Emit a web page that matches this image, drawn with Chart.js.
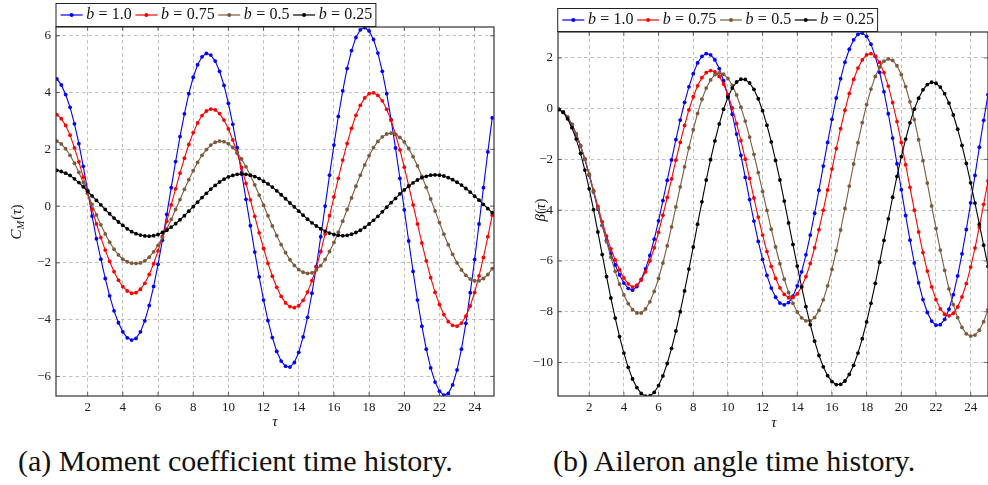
<!DOCTYPE html>
<html>
<head>
<meta charset="utf-8">
<script src="https://cdn.jsdelivr.net/npm/chart.js@4.4.0/dist/chart.umd.min.js"></script>
<style>
  html, body { margin: 0; padding: 0; background: #fff; width: 988px; height: 485px; overflow: hidden; position: relative; }
  .panel { position: absolute; top: 0; height: 430px; }
  #leftPanel { left: 0; width: 500px; }
  #rightPanel { left: 500px; width: 492px; }
  .caption { position: absolute; top: 446px; font-family: 'Liberation Serif', 'DejaVu Serif', serif; font-size: 30px; line-height: 1; color: #111; white-space: nowrap; }
</style>
</head>
<body>
<div class="panel" id="leftPanel"><canvas id="cmChart"></canvas></div>
<div class="panel" id="rightPanel"><canvas id="betaChart"></canvas></div>
<div class="caption" style="left:18px">(a) Moment coefficient time history.</div>
<div class="caption" style="left:553px">(b) Aileron angle time history.</div>
<script>
// time samples (tau) shared by both panels
const tau = [0.25,0.5,0.75,1,1.25,1.5,1.75,2,2.25,2.5,2.75,3,3.25,3.5,3.75,4,4.25,4.5,4.75,5,
  5.25,5.5,5.75,6,6.25,6.5,6.75,7,7.25,7.5,7.75,8,8.25,8.5,8.75,9,9.25,9.5,9.75,10,
  10.25,10.5,10.75,11,11.25,11.5,11.75,12,12.25,12.5,12.75,13,13.25,13.5,13.75,14,14.25,14.5,14.75,15,
  15.25,15.5,15.75,16,16.25,16.5,16.75,17,17.25,17.5,17.75,18,18.25,18.5,18.75,19,19.25,19.5,19.75,20,
  20.25,20.5,20.75,21,21.25,21.5,21.75,22,22.25,22.5,22.75,23,23.25,23.5,23.75,24,24.25,24.5,24.75,25];

const bLabels = ['1.0', '0.75', '0.5', '0.25'];
const colors = ['#0000ff', '#ff0000', '#7d5a3c', '#000000'];

// moment coefficient C_M(tau)
const cmB10 = [4.48,4.27,3.93,3.48,2.90,2.20,1.40,0.55,-0.35,-1.15,-1.87,-2.55,-3.16,-3.69,-4.11,-4.43,-4.64,-4.72,
  -4.66,-4.43,-4.04,-3.50,-2.83,-2.05,-1.20,-0.29,0.65,1.57,2.45,3.25,3.96,4.54,4.98,5.26,5.38,
  5.32,5.11,4.75,4.25,3.62,2.88,2.06,1.17,0.24,-0.69,-1.62,-2.49,-3.31,-4.03,-4.63,-5.12,-5.46,-5.64,
  -5.67,-5.51,-5.15,-4.61,-3.92,-3.07,-2.12,-1.08,0.00,1.09,2.15,3.16,4.06,4.85,5.48,5.94,6.21,
  6.29,6.17,5.87,5.39,4.75,3.96,3.05,2.05,0.98,-0.13,-1.23,-2.30,-3.31,-4.23,-5.04,-5.70,-6.20,-6.52,-6.66,
  -6.60,-6.30,-5.77,-5.04,-4.13,-3.05,-1.88,-0.63,0.65,1.91,3.11];
const cmB075 = [3.22,3.08,2.84,2.50,2.05,1.56,1.02,0.45,-0.11,-0.63,-1.11,-1.55,-1.95,-2.31,-2.61,-2.84,-2.99,-3.07,
  -3.05,-2.93,-2.72,-2.41,-2.03,-1.58,-1.07,-0.53,0.04,0.61,1.16,1.69,2.17,2.59,2.93,3.19,3.35,3.42,
  3.39,3.26,3.03,2.72,2.33,1.87,1.36,0.80,0.22,-0.36,-0.94,-1.49,-2.01,-2.47,-2.86,-3.18,-3.41,-3.54,
  -3.58,-3.51,-3.32,-3.03,-2.63,-2.15,-1.60,-0.98,-0.34,0.32,0.98,1.62,2.21,2.74,3.20,3.55,3.81,3.96,
  3.99,3.90,3.71,3.41,3.02,2.53,1.98,1.37,0.72,0.04,-0.63,-1.30,-1.93,-2.52,-3.04,-3.47,-3.82,-4.07,-4.20,
  -4.23,-4.12,-3.88,-3.52,-3.04,-2.46,-1.81,-1.08,-0.32];
const cmB05 = [2.29,2.19,2.02,1.79,1.51,1.19,0.83,0.45,0.06,-0.31,-0.66,-0.98,-1.27,-1.52,-1.72,-1.87,-1.96,-2.01,-2.02,
  -2.00,-1.93,-1.80,-1.61,-1.38,-1.11,-0.80,-0.47,-0.12,0.23,0.59,0.93,1.25,1.54,1.79,1.99,2.15,2.25,2.29,
  2.27,2.20,2.07,1.88,1.66,1.39,1.08,0.75,0.39,0.03,-0.34,-0.70,-1.04,-1.36,-1.64,-1.89,-2.09,-2.24,-2.33,-2.37,
  -2.35,-2.25,-2.10,-1.88,-1.60,-1.28,-0.92,-0.53,-0.12,0.29,0.70,1.09,1.45,1.78,2.06,2.28,2.44,2.54,
  2.57,2.53,2.42,2.26,2.03,1.74,1.42,1.05,0.66,0.25,-0.17,-0.58,-0.99,-1.36,-1.70,-2.00,-2.25,-2.44,-2.57,-2.63,
  -2.63,-2.55,-2.41,-2.20];
const cmB025 = [1.26,1.22,1.16,1.08,0.96,0.83,0.68,0.52,0.36,0.20,0.04,-0.12,-0.27,-0.42,-0.56,-0.68,-0.80,-0.90,-0.97,-1.02,-1.05,
  -1.06,-1.04,-1.00,-0.93,-0.85,-0.74,-0.62,-0.48,-0.34,-0.18,-0.02,0.14,0.30,0.45,0.60,0.73,0.85,0.95,1.03,1.08,1.12,
  1.13,1.12,1.09,1.04,0.97,0.88,0.78,0.67,0.54,0.40,0.26,0.11,-0.03,-0.18,-0.32,-0.46,-0.59,-0.70,-0.80,-0.88,-0.95,-1.00,-1.03,
  -1.04,-1.03,-0.99,-0.93,-0.85,-0.75,-0.63,-0.50,-0.36,-0.20,-0.04,0.12,0.27,0.43,0.57,0.70,0.82,0.92,1.00,1.05,1.09,
  1.10,1.09,1.06,1.00,0.93,0.84,0.74,0.62,0.49,0.35,0.21,0.06,-0.09,-0.23];

// aileron angle beta(tau)
const betaB10 = [-0.03,-0.13,-0.33,-0.62,-1.00,-1.47,-2.00,-2.62,-3.28,-3.96,-4.60,-5.18,-5.70,-6.16,-6.55,-6.87,-7.08,-7.15,
  -7.01,-6.73,-6.31,-5.78,-5.14,-4.42,-3.62,-2.82,-2.02,-1.22,-0.45,0.25,0.86,1.38,1.80,2.06,2.17,
  2.12,1.92,1.58,1.10,0.49,-0.22,-1.00,-1.84,-2.71,-3.58,-4.43,-5.23,-5.94,-6.57,-7.07,-7.43,-7.66,
  -7.73,-7.64,-7.39,-6.98,-6.43,-5.76,-4.98,-4.12,-3.21,-2.26,-1.33,-0.42,0.42,1.18,1.83,2.34,2.71,2.93,
  2.98,2.85,2.54,2.06,1.43,0.67,-0.20,-1.16,-2.17,-3.19,-4.21,-5.18,-6.08,-6.86,-7.52,-8.03,-8.37,-8.53,
  -8.51,-8.30,-7.90,-7.33,-6.59,-5.72,-4.76,-3.71,-2.63,-1.52,-0.46,0.55];
const betaB075 = [-0.03,-0.13,-0.33,-0.62,-1.00,-1.46,-1.98,-2.58,-3.22,-3.85,-4.46,-5.02,-5.52,-5.96,-6.35,-6.67,-6.90,-7.03,
  -6.95,-6.75,-6.43,-6.00,-5.48,-4.87,-4.20,-3.50,-2.77,-2.03,-1.33,-0.66,-0.05,0.47,0.90,1.22,1.42,1.50,
  1.45,1.27,0.97,0.55,0.03,-0.59,-1.26,-1.99,-2.75,-3.52,-4.27,-4.98,-5.63,-6.21,-6.69,-7.06,-7.32,-7.45,
  -7.44,-7.30,-7.02,-6.62,-6.10,-5.48,-4.77,-4.00,-3.20,-2.38,-1.57,-0.79,-0.06,0.60,1.15,1.60,1.92,2.12,
  2.17,2.07,1.82,1.42,0.89,0.24,-0.51,-1.33,-2.21,-3.10,-4.00,-4.86,-5.67,-6.40,-7.02,-7.52,-7.89,-8.10,
  -8.16,-8.06,-7.81,-7.42,-6.89,-6.24,-5.49,-4.66,-3.77,-2.85];
const betaB05 = [-0.03,-0.13,-0.33,-0.62,-1.00,-1.46,-1.99,-2.59,-3.25,-3.93,-4.60,-5.24,-5.85,-6.41,-6.91,-7.34,-7.68,-7.92,-8.05,
  -8.05,-7.89,-7.61,-7.20,-6.69,-6.08,-5.40,-4.66,-3.87,-3.08,-2.29,-1.54,-0.83,-0.19,0.37,0.81,1.13,1.34,1.41,
  1.36,1.19,0.92,0.54,0.06,-0.49,-1.12,-1.80,-2.52,-3.26,-4.01,-4.75,-5.45,-6.11,-6.72,-7.24,-7.67,-8.01,-8.24,-8.36,
  -8.36,-8.23,-7.95,-7.53,-6.98,-6.33,-5.59,-4.78,-3.93,-3.05,-2.18,-1.34,-0.55,0.16,0.77,1.27,1.64,1.87,1.96,
  1.90,1.69,1.34,0.87,0.27,-0.43,-1.22,-2.05,-2.93,-3.83,-4.72,-5.57,-6.37,-7.10,-7.72,-8.23,-8.62,-8.87,-8.96,
  -8.92,-8.73,-8.39,-7.92];
const betaB025 = [-0.03,-0.15,-0.40,-0.75,-1.20,-1.76,-2.42,-3.16,-3.98,-4.86,-5.75,-6.62,-7.46,-8.25,-8.98,-9.63,-10.19,-10.65,-10.99,-11.22,-11.33,
  -11.32,-11.18,-10.91,-10.53,-10.04,-9.44,-8.76,-8.00,-7.18,-6.32,-5.45,-4.55,-3.67,-2.81,-2.01,-1.27,-0.60,-0.02,0.45,0.81,1.05,1.16,
  1.15,1.01,0.76,0.39,-0.08,-0.65,-1.31,-2.04,-2.81,-3.64,-4.50,-5.35,-6.20,-7.02,-7.80,-8.51,-9.16,-9.72,-10.17,-10.52,-10.75,-10.87,
  -10.86,-10.73,-10.47,-10.11,-9.63,-9.06,-8.40,-7.67,-6.88,-6.05,-5.19,-4.34,-3.49,-2.67,-1.89,-1.20,-0.56,-0.02,0.41,0.74,0.95,1.04,
  1.00,0.85,0.59,0.22,-0.25,-0.81,-1.45,-2.16,-2.92,-3.72,-4.55,-5.38,-6.21];

// tick labels
const tauTicks = [2,4,6,8,10,12,14,16,18,20,22,24];
const cmTicks = [-6,-4,-2,0,2,4,6];
const betaTicks = [-10,-8,-6,-4,-2,0,2];

const serif = "'Liberation Serif', 'DejaVu Serif', serif";

let fmt = (v) => v < 0 ? '\u2212' + Math.abs(v) : String(v);

let makeDatasets = (series) => series.map((vals, i) => ({
  label: 'b = ' + bLabels[i],
  data: tau.map((t, k) => ({ x: t, y: vals[k] })),
  borderColor: colors[i],
  backgroundColor: colors[i],
  pointBackgroundColor: colors[i],
  pointBorderWidth: 0,
  pointRadius: 1.9,
  borderWidth: 1.1,
  tension: 0,
  order: 4 - i
}));

// draws a row of text pieces ([text, 'i'|'r'|'s']) centred on x
let drawPieces = (ctx, pieces, cx, cy, size) => {
  let fontOf = (p) => p[1] === 's' ? 'italic ' + (size * 0.7) + 'px ' + serif
                     : (p[1] === 'i' ? 'italic ' : '') + size + 'px ' + serif;
  let w = 0;
  pieces.forEach(p => { ctx.font = fontOf(p); w += ctx.measureText(p[0]).width + (p[2] || 0); });
  let x = cx - w / 2;
  ctx.textBaseline = 'middle';
  ctx.textAlign = 'left';
  pieces.forEach(p => {
    ctx.font = fontOf(p);
    ctx.fillText(p[0], x, p[1] === 's' ? cy + size * 0.25 : cy);
    x += ctx.measureText(p[0]).width + (p[2] || 0);
  });
};

let drawLegend = (chart, x0, y0) => {
  let ctx = chart.ctx;
  let size = 16, h = 23, sample = 22, gap = 3.6, eqGap = 4.3;
  let widthOf = (val) => {
    ctx.font = 'italic ' + size + 'px ' + serif;
    let w = ctx.measureText('b').width + eqGap;
    ctx.font = size + 'px ' + serif;
    return w + ctx.measureText('=').width + eqGap + ctx.measureText(val).width;
  };
  let total = 4.6;
  bLabels.forEach(v => { total += sample + gap + widthOf(v) + gap; });
  ctx.save();
  ctx.fillStyle = '#fff';
  ctx.fillRect(x0, y0, total, h);
  ctx.strokeStyle = '#222';
  ctx.lineWidth = 1;
  ctx.strokeRect(x0, y0, total, h);
  let x = x0 + 4.6, cy = y0 + h / 2;
  bLabels.forEach((v, i) => {
    ctx.strokeStyle = colors[i];
    ctx.fillStyle = colors[i];
    ctx.lineWidth = 1.2;
    ctx.beginPath();
    ctx.moveTo(x, cy);
    ctx.lineTo(x + sample, cy);
    ctx.stroke();
    ctx.beginPath();
    ctx.arc(x + sample / 2, cy, 2, 0, Math.PI * 2);
    ctx.fill();
    x += sample + gap;
    ctx.fillStyle = '#111';
    ctx.textBaseline = 'middle';
    ctx.textAlign = 'left';
    ctx.font = 'italic ' + size + 'px ' + serif;
    ctx.fillText('b', x, cy);
    x += ctx.measureText('b').width + eqGap;
    ctx.font = size + 'px ' + serif;
    ctx.fillText('=', x, cy);
    x += ctx.measureText('=').width + eqGap;
    ctx.fillText(v, x, cy);
    x += ctx.measureText(v).width + gap;
  });
  ctx.restore();
};

const decor = {
  id: 'decor',
  afterDatasetsDraw(chart, args, opts) {
    let { ctx, chartArea: a, scales } = chart;
    ctx.save();
    ctx.strokeStyle = '#444';
    ctx.lineWidth = 0.8;
    ctx.beginPath();
    scales.x.ticks.forEach(t => {
      let px = scales.x.getPixelForValue(t.value);
      ctx.moveTo(px, a.bottom); ctx.lineTo(px, a.bottom - 4);
      ctx.moveTo(px, a.top); ctx.lineTo(px, a.top + 4);
    });
    scales.y.ticks.forEach(t => {
      let py = scales.y.getPixelForValue(t.value);
      ctx.moveTo(a.left, py); ctx.lineTo(a.left + 4, py);
      ctx.moveTo(a.right, py); ctx.lineTo(a.right - 4, py);
    });
    ctx.stroke();
    ctx.strokeStyle = '#333';
    ctx.lineWidth = 1.2;
    ctx.strokeRect(a.left, a.top, a.right - a.left, a.bottom - a.top);
    ctx.restore();
  },
  afterDraw(chart, args, opts) {
    let ctx = chart.ctx;
    drawLegend(chart, opts.legendX, opts.legendY);
    ctx.save();
    ctx.fillStyle = '#111';
    drawPieces(ctx, [['\u03c4', 'i']], opts.xTitleX, opts.xTitleY, 15);
    ctx.translate(opts.yTitleX, opts.yTitleY);
    ctx.rotate(-Math.PI / 2);
    drawPieces(ctx, opts.yTitle, 0, 0, 15);
    ctx.restore();
  }
};

let makeScales = (xMin, xMax, yMin, yMax, yTicks, yWidth) => {
  let common = {
    type: 'linear',
    grid: { color: 'rgba(0,0,0,0.28)', lineWidth: 0.9, drawTicks: false },
    border: { display: false, dash: [3.5, 3] },
    ticks: { color: '#1a1a1a', font: { family: serif, size: 13 }, autoSkip: false, maxRotation: 0, callback: fmt }
  };
  return {
    x: Object.assign({}, common, {
      min: xMin, max: xMax,
      ticks: Object.assign({}, common.ticks, { padding: 4 }),
      afterBuildTicks: (s) => { s.ticks = tauTicks.map(v => ({ value: v })); },
      afterFit: (s) => { s.height = 34; }
    }),
    y: Object.assign({}, common, {
      min: yMin, max: yMax,
      ticks: Object.assign({}, common.ticks, { padding: 5 }),
      afterBuildTicks: (s) => { s.ticks = yTicks.map(v => ({ value: v })); },
      afterFit: (s) => { s.width = yWidth; }
    })
  };
};

new Chart(document.getElementById('cmChart'), {
  type: 'line',
  data: { datasets: makeDatasets([cmB10, cmB075, cmB05, cmB025]) },
  options: {
    responsive: true,
    maintainAspectRatio: false,
    animation: false,
    layout: { padding: { top: 27, right: 6, left: 0, bottom: 0 } },
    scales: makeScales(0.2, 25.1, -6.69, 6.31, cmTicks, 56),
    plugins: {
      legend: { display: false },
      tooltip: { enabled: false },
      decor: {
        legendX: 56, legendY: 3.5,
        xTitleX: 275, xTitleY: 422,
        yTitleX: 17, yTitleY: 222,
        yTitle: [['C', 'i', 0], ['M', 's', 1], ['(', 'r'], ['\u03c4', 'i'], [')', 'r']]
      }
    }
  },
  plugins: [decor]
});

new Chart(document.getElementById('betaChart'), {
  type: 'line',
  data: { datasets: makeDatasets([betaB10, betaB075, betaB05, betaB025]) },
  options: {
    responsive: true,
    maintainAspectRatio: false,
    animation: false,
    layout: { padding: { top: 32, right: 2, left: 0, bottom: 0 } },
    scales: makeScales(0.2, 25, -11.32, 3.02, betaTicks, 58),
    plugins: {
      legend: { display: false },
      tooltip: { enabled: false },
      decor: {
        legendX: 57.7, legendY: 8.5,
        xTitleX: 274, xTitleY: 423,
        yTitleX: 41, yTitleY: 210,
        yTitle: [['\u03b2', 'i'], ['(', 'r'], ['\u03c4', 'i'], [')', 'r']]
      }
    }
  },
  plugins: [decor]
});
</script>
</body>
</html>
